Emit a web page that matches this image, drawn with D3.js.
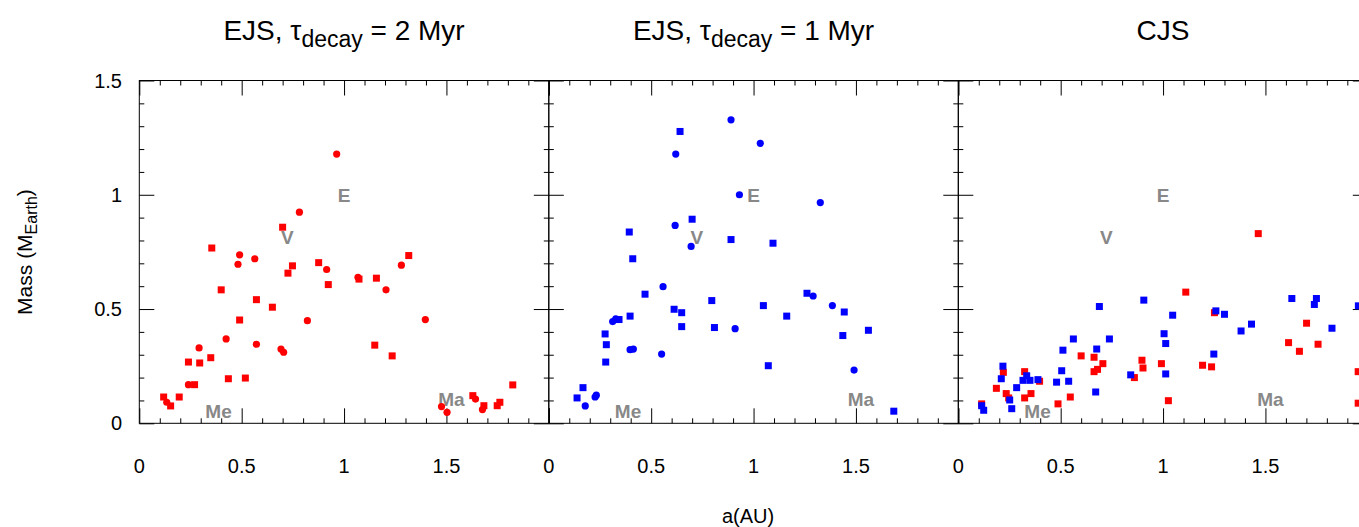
<!DOCTYPE html>
<html><head><meta charset="utf-8">
<script src="https://cdn.jsdelivr.net/npm/d3@7"></script>
<style>html,body{margin:0;padding:0;background:#fff;overflow:hidden}</style>
</head><body>
<script>
// ---- data ----
const panelTitles = ["EJS, τ|decay| = 2 Myr", "EJS, τ|decay| = 1 Myr", "CJS"];
const xTickLabels = ["0", "0.5", "1", "1.5"];
const yTickLabels = ["0", "0.5", "1", "1.5"];
const planetNames = ["Me", "V", "E", "Ma"];
const planetA = [0.387, 0.723, 1.0, 1.524];
const planetM = [0.055, 0.815, 1.0, 0.107];

const p1RedCircles = [[0.964,1.178],[0.782,0.924],[0.49,0.737],[0.482,0.696],[0.564,0.72],[0.915,0.673],[0.821,0.449],[0.424,0.369],[0.572,0.346],[0.292,0.33],[0.692,0.325],[0.705,0.311],[0.24,0.169],[0.134,0.092],[1.068,0.639],[1.28,0.692],[1.205,0.584],[1.397,0.454],[1.642,0.106],[1.676,0.06],[1.476,0.073],[1.503,0.048]];
const p1RedSquares = [[0.70,0.858],[0.354,0.767],[0.726,0.657],[0.748,0.689],[0.876,0.703],[0.923,0.607],[0.40,0.584],[0.572,0.541],[0.65,0.508],[0.49,0.452],[0.24,0.268],[0.295,0.264],[0.349,0.287],[0.27,0.169],[0.435,0.195],[0.518,0.198],[0.119,0.115],[0.153,0.076],[0.195,0.115],[1.316,0.734],[1.073,0.631],[1.158,0.635],[1.15,0.342],[1.235,0.295],[1.824,0.168],[1.629,0.121],[1.683,0.077],[1.761,0.092],[1.748,0.077]];
const p2BlueCircles = [[0.89,1.328],[0.62,1.178],[0.931,1.0],[0.617,0.866],[0.695,0.774],[1.033,1.225],[1.326,0.966],[0.558,0.598],[0.91,0.414],[0.327,0.457],[0.312,0.445],[0.397,0.322],[0.413,0.325],[0.551,0.303],[0.178,0.076],[0.226,0.115],[0.232,0.123],[1.291,0.557],[1.385,0.515],[1.491,0.233]];
const p2BlueSquares = [[0.641,1.277],[0.70,0.893],[0.393,0.837],[0.89,0.804],[1.095,0.788],[0.41,0.72],[0.47,0.565],[0.612,0.499],[0.649,0.484],[0.796,0.537],[0.649,0.423],[0.809,0.419],[0.397,0.469],[0.343,0.454],[0.275,0.391],[0.281,0.344],[0.278,0.268],[0.167,0.156],[0.138,0.111],[1.048,0.515],[1.162,0.469],[1.261,0.569],[1.443,0.487],[1.436,0.384],[1.561,0.407],[1.072,0.252],[1.685,0.053]];
const p3RedSquares = [[0.6,0.295],[0.663,0.289],[0.706,0.261],[0.68,0.236],[0.663,0.226],[0.897,0.276],[0.902,0.242],[0.86,0.2],[0.992,0.261],[0.22,0.223],[0.186,0.153],[0.234,0.13],[0.246,0.111],[0.324,0.226],[0.397,0.184],[0.355,0.13],[0.324,0.111],[0.547,0.115],[0.487,0.085],[0.114,0.085],[1.465,0.83],[1.111,0.574],[1.026,0.099],[1.251,0.484],[1.193,0.254],[1.237,0.247],[1.701,0.438],[1.613,0.353],[1.666,0.315],[1.757,0.346],[1.953,0.226],[1.953,0.088]];
const p3BlueSquares = [[0.689,0.511],[0.906,0.539],[0.562,0.369],[0.738,0.369],[0.511,0.32],[0.676,0.325],[0.505,0.23],[0.539,0.184],[0.48,0.18],[0.842,0.212],[0.671,0.137],[0.218,0.25],[0.21,0.195],[0.285,0.156],[0.251,0.102],[0.261,0.064],[0.334,0.208],[0.316,0.188],[0.35,0.188],[0.389,0.191],[0.114,0.077],[0.124,0.057],[1.005,0.392],[1.013,0.349],[1.013,0.216],[1.047,0.473],[1.258,0.492],[1.3,0.477],[1.432,0.434],[1.381,0.404],[1.248,0.303],[1.629,0.546],[1.749,0.546],[1.739,0.52],[1.825,0.416],[1.954,0.514]];

const panels = [
  {title: panelTitles[0], series: [{pts: p1RedCircles, shape: "circle", color: "#ff0000"}, {pts: p1RedSquares, shape: "square", color: "#ff0000"}]},
  {title: panelTitles[1], series: [{pts: p2BlueCircles, shape: "circle", color: "#0000ff"}, {pts: p2BlueSquares, shape: "square", color: "#0000ff"}]},
  {title: panelTitles[2], series: [{pts: p3RedSquares, shape: "square", color: "#ff0000"}, {pts: p3BlueSquares, shape: "square", color: "#0000ff"}]}
];

// ---- layout ----
const W = 1359, H = 527;
const left0 = 139.3, panelW = 409.5, plotTop = 80.5, plotBottom = 423.3;
const font = "'Liberation Sans', Arial, Helvetica, sans-serif";

const svg = d3.select("body").append("svg").attr("width", W).attr("height", H)
  .style("font-family", font);
svg.append("rect").attr("width", W).attr("height", H).attr("fill", "#fff");

const y = d3.scaleLinear().domain([0, 1.5]).range([plotBottom, plotTop]);
const majorX = [0, 0.5, 1, 1.5, 2];
const minorX = d3.range(0, 2.001, 0.1).filter(v => Math.abs(v*2 - Math.round(v*2)) > 1e-6);
const majorY = [0, 0.5, 1, 1.5];
const minorY = d3.range(0, 1.501, 0.1).filter(v => Math.abs(v*2 - Math.round(v*2)) > 1e-6);

panels.forEach((p, i) => {
  const x0 = left0 + i * panelW;
  const x = d3.scaleLinear().domain([0, 2]).range([x0, x0 + panelW]);
  const g = svg.append("g");

  const mk = (axisFn, scale, vals, size, tx, ty) => {
    const a = g.append("g").attr("transform", `translate(${tx},${ty})`)
      .call(axisFn(scale).tickValues(vals).tickSize(size).tickFormat(""));
    a.select(".domain").remove();
    a.selectAll("line").attr("stroke", "#000").attr("stroke-width", 1);
  };
  mk(d3.axisBottom, x, majorX, -15, 0, plotBottom);
  mk(d3.axisBottom, x, minorX, -5, 0, plotBottom);
  mk(d3.axisTop, x, majorX, -15, 0, plotTop);
  mk(d3.axisTop, x, minorX, -5, 0, plotTop);
  mk(d3.axisLeft, y, majorY, -15, x0, 0);
  mk(d3.axisLeft, y, minorY, -5, x0, 0);
  mk(d3.axisRight, y, majorY, -15, x0 + panelW, 0);
  mk(d3.axisRight, y, minorY, -5, x0 + panelW, 0);

  g.append("rect").attr("x", x0).attr("y", plotTop).attr("width", panelW).attr("height", plotBottom - plotTop)
    .attr("fill", "none").attr("stroke", "#000").attr("stroke-width", 1);

  g.selectAll("text.xt").data(xTickLabels).enter().append("text")
    .attr("x", d => x(+d)).attr("y", plotBottom + 50)
    .attr("text-anchor", "middle").attr("font-size", 20).attr("fill", "#000").text(d => d);

  g.selectAll("text.pl").data(planetNames).enter().append("text")
    .attr("x", (d, k) => x(planetA[k])).attr("y", (d, k) => y(planetM[k]) + 7)
    .attr("text-anchor", "middle").attr("font-size", 19).attr("font-weight", "bold")
    .attr("fill", "#888888").text(d => d);

  p.series.forEach(s => {
    if (s.shape === "circle") {
      g.selectAll(null).data(s.pts).enter().append("circle")
        .attr("cx", d => x(d[0])).attr("cy", d => y(d[1])).attr("r", 3.6).attr("fill", s.color);
    } else {
      const sz = 7;
      g.selectAll(null).data(s.pts).enter().append("rect")
        .attr("x", d => x(d[0]) - sz/2).attr("y", d => y(d[1]) - sz/2)
        .attr("width", sz).attr("height", sz).attr("fill", s.color);
    }
  });

  const parts = p.title.split("|");
  const t = svg.append("text").attr("x", x0 + panelW/2).attr("y", 40)
    .attr("text-anchor", "middle").attr("font-size", 28).attr("fill", "#000");
  t.append("tspan").text(parts[0]);
  if (parts.length > 1) {
    t.append("tspan").attr("font-size", 23).attr("dy", 7).text(parts[1]);
    t.append("tspan").attr("dy", -7).text(parts[2]);
  }
});

svg.selectAll("text.yt").data(yTickLabels).enter().append("text")
  .attr("x", 122).attr("y", d => y(+d) + 7).attr("text-anchor", "end")
  .attr("font-size", 20).attr("fill", "#000").text(d => d);

const yl = svg.append("text").attr("transform", `translate(32,252) rotate(-90)`)
  .attr("text-anchor", "middle").attr("font-size", 21).attr("fill", "#000");
yl.append("tspan").text("Mass (M");
yl.append("tspan").attr("font-size", 16).attr("dy", 5).text("Earth");
yl.append("tspan").attr("dy", -5).text(")");

svg.append("text").attr("x", 748).attr("y", 523).attr("text-anchor", "middle")
  .attr("font-size", 20).attr("fill", "#000").text("a(AU)");
</script>
</body></html>
